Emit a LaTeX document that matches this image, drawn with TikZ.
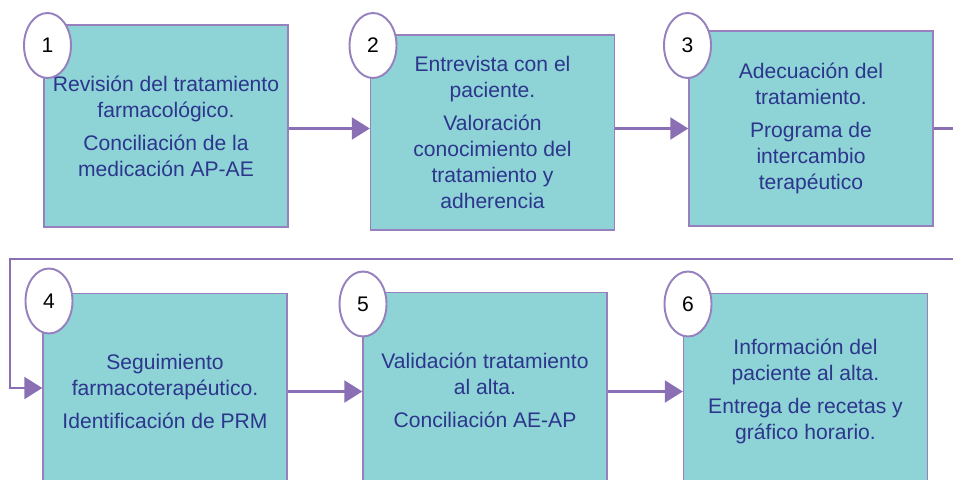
\documentclass[tikz,border=0pt]{standalone}
\usepackage{fontspec}
\setmainfont{Liberation Sans}
\usepackage{tikz}
\usetikzlibrary{shapes.geometric, arrows.meta, positioning}
\usepackage{xcolor}
\definecolor{boxteal}{RGB}{142, 211, 214}
\definecolor{edgepurple}{RGB}{150, 128, 190}
\definecolor{linkpurple}{RGB}{139, 111, 181}
\definecolor{textblue}{RGB}{44, 54, 140}

\begin{document}
\begin{tikzpicture}[
    stepbox/.style={rectangle, draw=edgepurple, fill=boxteal, minimum width=4.88cm, minimum height=3.9cm, align=center, text=textblue, font=\fontsize{12}{14.8}\selectfont, line width=0.8pt},
    numtag/.style={ellipse, draw=edgepurple, fill=white, minimum width=0.94cm, minimum height=1.3cm, inner sep=0pt, font=\fontsize{12}{14}\selectfont, line width=1.1pt},
    arrow/.style={-{Triangle[length=3.6mm, width=4.4mm]}, line width=1.3pt, color=linkpurple},
]
\clip (0, 0) rectangle (19.06, 9.58);

% Row 1
\node[stepbox, minimum height=4.04cm] (revision) at (3.32, 7.06) {Revisión del tratamiento\\ farmacológico.\\[4pt] Conciliación de la\\ medicación AP-AE};
\node[stepbox] (entrevista) at (9.85, 6.93) {Entrevista con el\\ paciente.\\[4pt] Valoración\\ conocimiento del\\ tratamiento y\\ adherencia};
\node[stepbox] (adecuacion) at (16.22, 7.01) {Adecuación del\\ tratamiento.\\[4pt] Programa de\\ intercambio\\ terapéutico};

% Row 2
\node[stepbox, minimum height=3.92cm] (seguimiento) at (3.30, 1.75) {Seguimiento\\ farmacoterapéutico.\\[4pt] Identificación de PRM};
\node[stepbox, minimum height=3.92cm] (validacion) at (9.70, 1.77) {Validación tratamiento\\ al alta.\\[4pt] Conciliación AE-AP};
\node[stepbox, minimum height=3.92cm] (informacion) at (16.11, 1.75) {Información del\\ paciente al alta.\\[4pt] Entrega de recetas y\\ gráfico horario.};

% Arrows
\draw[arrow] (revision.east |- adecuacion.west) -- (entrevista.west |- adecuacion.west);
\draw[arrow] (entrevista.east |- adecuacion.west) -- (adecuacion.west);
\coordinate (outright) at (19.40, 7.01);
\coordinate (turnright) at (19.40, 4.40);
\coordinate (turnleft) at (0.20, 4.40);
\coordinate (downleft) at (0.20, 1.82);
\draw[arrow] (adecuacion.east) -- (outright) -- (turnright) -- (turnleft) -- (downleft) -- (seguimiento.west |- downleft);
\draw[arrow] (seguimiento.east) -- (validacion.west |- seguimiento.east);
\draw[arrow] (validacion.east |- seguimiento.east) -- (informacion.west |- seguimiento.east);

% Step numbers
\node[numtag] (num1) at (0.95, 8.67) {1};
\node[numtag] (num2) at (7.46, 8.67) {2};
\node[numtag] (num3) at (13.75, 8.67) {3};
\node[numtag] (num4) at (0.98, 3.56) {4};
\node[numtag] (num5) at (7.26, 3.50) {5};
\node[numtag] (num6) at (13.76, 3.50) {6};

\end{tikzpicture}
\end{document}
